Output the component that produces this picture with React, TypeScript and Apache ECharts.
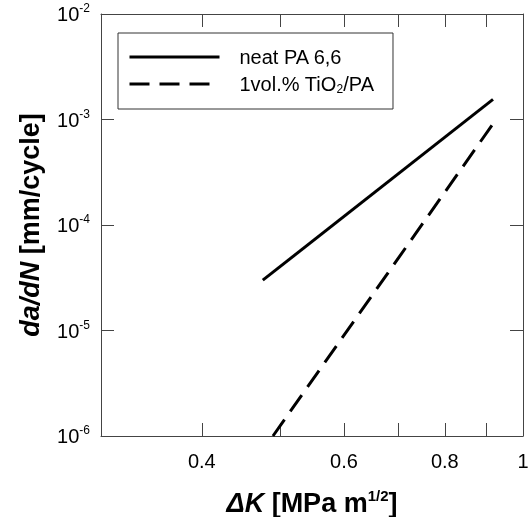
import React, { useEffect, useRef } from 'react';
import * as echarts from 'echarts';

// Crack growth data (ΔK in MPa m^1/2, da/dN in mm/cycle)
const neatK = [0.476, 0.918];
const neatRate = [3.0e-5, 1.55e-3];
const tioK = [0.49, 0.926];
const tioRate = [1.0e-6, 1.0e-3];

const xTickValues = [0.4, 0.5, 0.6, 0.7, 0.8, 0.9];
const xLabelValues = [0.4, 0.6, 0.8, 1];
const seriesNames = ['neat PA 6,6', '1vol.% TiO2/PA'];

const FONT = "'Liberation Sans', Arial, Helvetica, sans-serif";
const AXIS_COLOR = '#444';

export default function App() {
  const ref = useRef<HTMLDivElement>(null);

  useEffect(() => {
    if (!ref.current) return;
    const chart = echarts.init(ref.current, undefined, { renderer: 'svg' });

    const neatData = neatK.map((k, i) => [k, neatRate[i]]);
    const tioData = tioK.map((k, i) => [k, tioRate[i]]);

    const option: any = {
      animation: false,
      grid: { left: 101, top: 14, width: 422, height: 422, outerBoundsMode: 'none' },
      legend: {
        left: 118,
        top: 33,
        orient: 'vertical',
        borderColor: '#333',
        borderWidth: 1,
        padding: [13, 19, 14, 10],
        itemWidth: 90,
        itemHeight: 14,
        itemGap: 5,
        data: seriesNames,
        itemStyle: { opacity: 0 },
        lineStyle: { width: 3, opacity: 1 },
        formatter: (name: string) =>
          name === seriesNames[1] ? '1vol.% TiO{sub|2}/PA' : name,
        textStyle: {
          fontFamily: FONT,
          fontSize: 20,
          color: '#000',
          lineHeight: 22,
          padding: [0, 0, 0, 15],
          rich: {
            sub: { fontFamily: FONT, fontSize: 12, color: '#000', lineHeight: 10, verticalAlign: 'bottom' },
          },
        },
      },
      xAxis: [
        {
          type: 'log', min: 0.3, max: 1, position: 'bottom', splitLine: { show: false }, minorTick: { show: false },
          axisLine: { show: true, lineStyle: { color: AXIS_COLOR } },
          axisTick: { show: true, inside: true, length: 13, customValues: xTickValues, lineStyle: { color: AXIS_COLOR, width: 1 } },
          axisLabel: {
            customValues: xLabelValues,
            margin: 13,
            fontFamily: FONT,
            fontSize: 20,
            lineHeight: 24,
            color: '#000',
            formatter: (v: number) => String(+Number(v).toFixed(2)),
          },
          name: '{i|ΔK} [MPa m{sup|1/2}]',
          nameLocation: 'middle',
          nameGap: 52,
          nameTextStyle: {
            fontFamily: FONT,
            fontSize: 27,
            fontWeight: 'bold',
            color: '#000',
            lineHeight: 30,
            rich: {
              i: { fontFamily: FONT, fontSize: 27, fontWeight: 'bold', fontStyle: 'italic', color: '#000', lineHeight: 30 },
              sup: { fontFamily: FONT, fontSize: 15, fontWeight: 'bold', color: '#000', lineHeight: 18, verticalAlign: 'top' },
            },
          },
        },
        {
          type: 'log', min: 0.3, max: 1, position: 'top', splitLine: { show: false }, minorTick: { show: false },
          axisLine: { show: true, lineStyle: { color: AXIS_COLOR } },
          axisTick: { show: true, inside: true, length: 13, customValues: xTickValues, lineStyle: { color: AXIS_COLOR, width: 1 } },
          axisLabel: { show: false },
        },
      ],
      yAxis: [
        {
          type: 'log', min: 1e-6, max: 1e-2, position: 'left', splitLine: { show: false }, minorTick: { show: false },
          axisLine: { show: true, lineStyle: { color: AXIS_COLOR } },
          axisTick: { show: true, inside: true, length: 13, lineStyle: { color: AXIS_COLOR, width: 1 } },
          axisLabel: {
            margin: 11,
            fontFamily: FONT,
            fontSize: 20,
            color: '#000',
            formatter: (v: number) => {
              const e = Math.round(Math.log10(v));
              return `{b|10}{sup|${e}}`;
            },
            rich: {
              b: { fontFamily: FONT, fontSize: 20, color: '#000', lineHeight: 24 },
              sup: { fontFamily: FONT, fontSize: 12, color: '#000', lineHeight: 18, verticalAlign: 'top' },
            },
          },
          name: '{i|da/dN} [mm/cycle]',
          nameLocation: 'middle',
          nameGap: 56,
          nameTextStyle: {
            fontFamily: FONT,
            fontSize: 27,
            fontWeight: 'bold',
            color: '#000',
            lineHeight: 30,
            rich: {
              i: { fontFamily: FONT, fontSize: 27, fontWeight: 'bold', fontStyle: 'italic', color: '#000', lineHeight: 30 },
            },
          },
        },
        {
          type: 'log', min: 1e-6, max: 1e-2, position: 'right', splitLine: { show: false }, minorTick: { show: false },
          axisLine: { show: true, lineStyle: { color: AXIS_COLOR } },
          axisTick: { show: true, inside: true, length: 13, lineStyle: { color: AXIS_COLOR, width: 1 } },
          axisLabel: { show: false },
        },
      ],
      series: [
        {
          name: seriesNames[0], type: 'line', data: neatData, symbol: 'none',
          lineStyle: { color: '#000', width: 3 }, itemStyle: { color: '#000' },
        },
        {
          name: seriesNames[1], type: 'line', data: tioData, symbol: 'none',
          lineStyle: { color: '#000', width: 3, type: [20, 10] }, itemStyle: { color: '#000' },
        },
      ],
    };

    chart.setOption(option);
    return () => chart.dispose();
  }, []);

  return <div ref={ref} style={{ position: 'fixed', left: 0, top: 0, width: 529, height: 517 }} />;
}
